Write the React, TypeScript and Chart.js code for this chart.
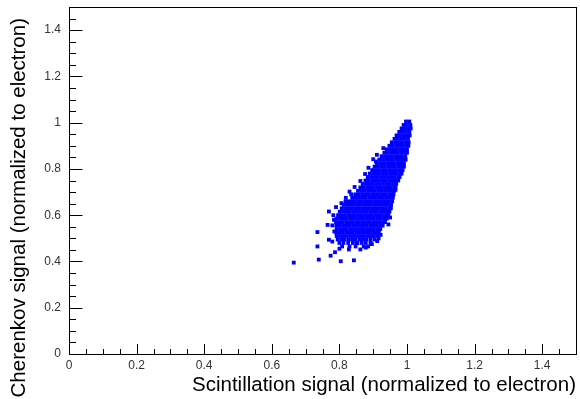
import React, { useEffect, useRef } from "react";
import { Chart, registerables } from "chart.js";

Chart.register(...registerables);

// ---- data ----
const xTitle = "Scintillation signal (normalized to electron)";
const yTitle = "Cherenkov signal (normalized to electron)";

const majorTicks = [0, 0.2, 0.4, 0.6, 0.8, 1, 1.2, 1.4];
const tickLabels = ["0", "0.2", "0.4", "0.6", "0.8", "1", "1.2", "1.4"];
const minorTicks = [
  0.05, 0.1, 0.15, 0.25, 0.3, 0.35, 0.45, 0.5, 0.55, 0.65, 0.7, 0.75, 0.85, 0.9,
  0.95, 1.05, 1.1, 1.15, 1.25, 1.3, 1.35, 1.45,
];

// dense core of the scatter: [cherenkov, [scintillation values...]]
const coreRows: [number, number[]][] = [
  [1.005, [0.997, 1.007]],
  [0.99, [0.99, 1.0, 1.01]],
  [0.975, [0.984, 0.994, 1.004, 1.011]],
  [0.96, [0.977, 0.987, 0.997, 1.007]],
  [0.945, [0.969, 0.979, 0.989, 0.999, 1.008]],
  [0.93, [0.963, 0.973, 0.983, 0.993, 1.003]],
  [0.915, [0.955, 0.965, 0.975, 0.985, 0.995, 1.005]],
  [0.9, [0.948, 0.958, 0.968, 0.978, 0.988, 0.998, 1.004]],
  [0.885, [0.94, 0.95, 0.96, 0.97, 0.98, 0.99, 1.0]],
  [0.87, [0.933, 0.943, 0.953, 0.963, 0.973, 0.983, 0.993, 1.0]],
  [0.855, [0.925, 0.935, 0.945, 0.955, 0.965, 0.975, 0.985, 0.995]],
  [0.84, [0.918, 0.928, 0.938, 0.948, 0.958, 0.968, 0.978, 0.988, 0.996]],
  [0.825, [0.911, 0.921, 0.931, 0.941, 0.951, 0.961, 0.971, 0.981, 0.991]],
  [0.81, [0.904, 0.914, 0.924, 0.934, 0.944, 0.954, 0.964, 0.974, 0.984, 0.991]],
  [0.795, [0.897, 0.907, 0.917, 0.927, 0.937, 0.947, 0.957, 0.967, 0.977, 0.987]],
  [0.78, [0.89, 0.9, 0.91, 0.92, 0.93, 0.94, 0.95, 0.96, 0.97, 0.98, 0.984]],
  [0.765, [0.884, 0.894, 0.904, 0.914, 0.924, 0.934, 0.944, 0.954, 0.964, 0.974, 0.978]],
  [0.75, [0.877, 0.887, 0.897, 0.907, 0.917, 0.927, 0.937, 0.947, 0.957, 0.967, 0.974]],
  [0.735, [0.869, 0.879, 0.889, 0.899, 0.909, 0.919, 0.929, 0.939, 0.949, 0.959, 0.968]],
  [0.72, [0.862, 0.872, 0.882, 0.892, 0.902, 0.912, 0.922, 0.932, 0.942, 0.952, 0.962, 0.966]],
  [0.705, [0.855, 0.865, 0.875, 0.885, 0.895, 0.905, 0.915, 0.925, 0.935, 0.945, 0.955, 0.962]],
  [0.69, [0.847, 0.857, 0.867, 0.877, 0.887, 0.897, 0.907, 0.917, 0.927, 0.937, 0.947, 0.957, 0.96]],
  [0.675, [0.838, 0.848, 0.858, 0.868, 0.878, 0.888, 0.898, 0.908, 0.918, 0.928, 0.938, 0.948, 0.958]],
  [0.66, [0.826, 0.836, 0.846, 0.856, 0.866, 0.876, 0.886, 0.896, 0.906, 0.916, 0.926, 0.936, 0.946, 0.956]],
  [0.645, [0.813, 0.823, 0.833, 0.843, 0.853, 0.863, 0.873, 0.883, 0.893, 0.903, 0.913, 0.923, 0.933, 0.943, 0.953]],
  [0.63, [0.807, 0.817, 0.827, 0.837, 0.847, 0.857, 0.867, 0.877, 0.887, 0.897, 0.907, 0.917, 0.927, 0.937, 0.947, 0.951]],
  [0.615, [0.801, 0.811, 0.821, 0.831, 0.841, 0.851, 0.861, 0.871, 0.881, 0.891, 0.901, 0.911, 0.921, 0.931, 0.941, 0.948]],
  [0.6, [0.796, 0.806, 0.816, 0.826, 0.836, 0.846, 0.856, 0.866, 0.876, 0.886, 0.896, 0.906, 0.916, 0.926, 0.936, 0.945]],
  [0.585, [0.792, 0.802, 0.812, 0.822, 0.832, 0.842, 0.852, 0.862, 0.872, 0.882, 0.892, 0.902, 0.912, 0.922, 0.932, 0.94]],
  [0.57, [0.79, 0.8, 0.81, 0.82, 0.83, 0.84, 0.85, 0.86, 0.87, 0.88, 0.89, 0.9, 0.91, 0.92, 0.93, 0.935]],
  [0.555, [0.791, 0.801, 0.811, 0.821, 0.831, 0.841, 0.851, 0.861, 0.871, 0.881, 0.891, 0.901, 0.911, 0.921, 0.928]],
  [0.54, [0.792, 0.802, 0.812, 0.822, 0.832, 0.842, 0.852, 0.862, 0.872, 0.882, 0.892, 0.902, 0.912, 0.921]],
  [0.525, [0.79, 0.8, 0.81, 0.82, 0.83, 0.84, 0.85, 0.86, 0.87, 0.88, 0.89, 0.9, 0.91, 0.917]],
  [0.51, [0.792, 0.802, 0.812, 0.822, 0.832, 0.842, 0.852, 0.862, 0.872, 0.882, 0.892, 0.902, 0.912]],
  [0.495, [0.795, 0.806, 0.816, 0.828, 0.838, 0.848, 0.86, 0.87, 0.88, 0.892, 0.904]],
  [0.48, [0.8, 0.812, 0.826, 0.84, 0.852, 0.866, 0.878, 0.892]],
  [0.465, [0.808, 0.83, 0.848, 0.872, 0.885]],
];

// isolated outliers: [scintillation, cherenkov]
const strayPoints: [number, number][] = [
  [0.665, 0.395], [0.739, 0.408], [0.804, 0.401], [0.843, 0.405], [0.774, 0.425],
  [0.787, 0.44], [0.735, 0.465], [0.769, 0.494], [0.779, 0.486], [0.735, 0.527],
  [0.765, 0.558], [0.784, 0.58], [0.769, 0.616], [0.779, 0.556], [0.819, 0.675],
  [0.828, 0.452], [0.853, 0.479], [0.862, 0.452], [0.878, 0.46], [0.8, 0.455],
  [0.911, 0.861], [0.908, 0.832], [0.922, 0.515], [0.916, 0.5], [0.835, 0.69],
  [0.818, 0.66], [0.952, 0.63], [0.966, 0.71], [0.785, 0.53], [0.782, 0.6],
  [0.79, 0.635], [0.806, 0.652], [0.83, 0.702], [0.845, 0.722], [0.862, 0.748],
  [0.876, 0.778], [0.886, 0.805], [0.9, 0.842], [0.93, 0.89], [0.945, 0.56],
  [0.95, 0.59], [0.896, 0.475], [0.912, 0.488],
];

const rootAxes = {
  id: "rootAxes",
  afterDraw(chart: any) {
    const { ctx, chartArea: a, scales } = chart;
    const x = scales.x;
    const y = scales.y;
    ctx.save();
    ctx.strokeStyle = "#000";
    ctx.lineWidth = 1;
    const bottom = Math.round(a.bottom) + 0.5;
    const left = Math.round(a.left) + 0.5;
    ctx.beginPath();
    majorTicks.forEach((v) => {
      const px = Math.round(x.getPixelForValue(v)) + 0.5;
      ctx.moveTo(px, bottom);
      ctx.lineTo(px, bottom - 10.5);
      const py = Math.round(y.getPixelForValue(v)) + 0.5;
      ctx.moveTo(left, py);
      ctx.lineTo(left + 13, py);
    });
    minorTicks.forEach((v) => {
      const px = Math.round(x.getPixelForValue(v)) + 0.5;
      ctx.moveTo(px, bottom);
      ctx.lineTo(px, bottom - 5.5);
      const py = Math.round(y.getPixelForValue(v)) + 0.5;
      ctx.moveTo(left, py);
      ctx.lineTo(left + 6.5, py);
    });
    ctx.stroke();
    ctx.strokeRect(left, Math.round(a.top) + 0.5, Math.round(a.right) - Math.round(a.left), Math.round(a.bottom) - Math.round(a.top));
    // y axis title (ROOT style, right aligned near top)
    ctx.fillStyle = "#000";
    ctx.font = '20.5px "Liberation Sans", Arial, sans-serif';
    ctx.translate(19, 18);
    ctx.rotate(-Math.PI / 2);
    ctx.textAlign = "right";
    ctx.textBaseline = "middle";
    ctx.fillText(yTitle, 0, 0);
    ctx.restore();
  },
};

export default function App() {
  const ref = useRef<HTMLCanvasElement | null>(null);
  useEffect(() => {
    if (!ref.current) return;
    const points = [
      ...coreRows.flatMap(([cy, xs]) => xs.map((cx) => ({ x: cx, y: cy }))),
      ...strayPoints.map(([cx, cy]) => ({ x: cx, y: cy })),
    ];
    const font = { family: '"Liberation Sans", Arial, sans-serif', size: 12 };
    const chart = new Chart(ref.current, {
      type: "scatter",
      data: {
        datasets: [
          {
            data: points,
            pointStyle: "rect",
            pointRadius: 2.7,
            pointBorderWidth: 0,
            backgroundColor: "rgb(0,0,255)",
            borderColor: "rgb(0,0,255)",
          },
        ],
      },
      options: {
        animation: false,
        responsive: false,
        events: [],
        devicePixelRatio: 1,
        layout: { padding: { top: 7, right: 4, left: 0, bottom: 0 } },
        plugins: { legend: { display: false }, tooltip: { enabled: false } },
        scales: {
          x: {
            type: "linear",
            min: 0,
            max: 1.5,
            afterFit: (s: any) => {
              s.height = 45;
              s.paddingLeft = 0;
              s.paddingRight = 0;
              s.paddingTop = 0;
              s.paddingBottom = 0;
            },
            afterBuildTicks: (s: any) => {
              s.ticks = majorTicks.map((v) => ({ value: v }));
            },
            grid: { display: false, drawTicks: false },
            border: { display: false },
            ticks: {
              font,
              color: "#333",
              padding: 4,
              maxRotation: 0,
              callback: (v: any) => tickLabels[majorTicks.indexOf(Number(v))] ?? "",
            },
            title: {
              display: true,
              text: xTitle,
              align: "end",
              color: "#000",
              font: { family: '"Liberation Sans", Arial, sans-serif', size: 20.5 },
              padding: { top: 0, bottom: 1 },
            },
          },
          y: {
            type: "linear",
            min: 0,
            max: 1.5,
            afterFit: (s: any) => {
              s.width = 69;
              s.paddingLeft = 0;
              s.paddingRight = 0;
              s.paddingTop = 0;
              s.paddingBottom = 0;
            },
            afterBuildTicks: (s: any) => {
              s.ticks = majorTicks.map((v) => ({ value: v }));
            },
            grid: { display: false, drawTicks: false },
            border: { display: false },
            ticks: {
              font,
              color: "#333",
              padding: 8,
              callback: (v: any) => tickLabels[majorTicks.indexOf(Number(v))] ?? "",
            },
          },
        },
      },
      plugins: [rootAxes],
    } as any);
    return () => chart.destroy();
  }, []);
  return (
    <div style={{ position: "fixed", left: 0, top: 0, width: 580, height: 399, background: "#fff" }}>
      <canvas ref={ref} width={580} height={399} />
    </div>
  );
}
